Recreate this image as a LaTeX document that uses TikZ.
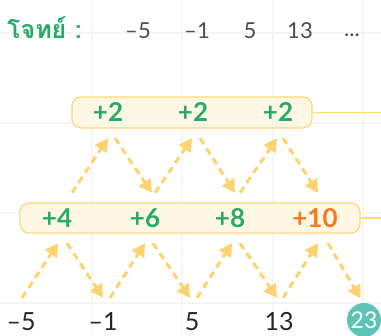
\documentclass[tikz,border=0pt]{standalone}
\usepackage{fontspec}
\setmainfont{Lato}
\newfontfamily\thaifont[Script=Thai]{Loma}
\usetikzlibrary{arrows.meta}
\definecolor{gridc}{RGB}{248,245,240}
\definecolor{boxfill}{RGB}{253,247,228}
\definecolor{boxline}{RGB}{252,216,122}
\definecolor{arrc}{RGB}{253,211,112}
\definecolor{stepgreen}{RGB}{38,170,106}
\definecolor{steporange}{RGB}{243,122,32}
\definecolor{ansteal}{RGB}{92,196,181}
\begin{document}
\begin{tikzpicture}[x=1pt,y=-1pt,
  sumbox/.style={draw=boxline,line width=1.2pt,fill=boxfill,rounded corners=9pt},
  difflbl/.style={inner sep=0pt,font=\fontsize{26}{26}\selectfont\bfseries,text=stepgreen},
  termlbl/.style={inner sep=0pt,minimum height=48pt,font=\fontsize{25}{25}\selectfont,text=black!85},
  toplbl/.style={inner sep=0pt,font=\fontsize{22}{22}\selectfont,text=black!70},
  dasharr/.style={draw=arrc,line width=3pt,dash pattern=on 7pt off 5pt,-{Triangle[length=13pt,width=14pt]}}]
\useasboundingbox (0,0) rectangle (381,336);
\draw[gridc,line width=1.5pt] (92,0)--(92,336) (182,0)--(182,336) (273,0)--(273,336) (363,0)--(363,336);
\draw[gridc,line width=1.5pt] (0,33)--(381,33) (0,123)--(381,123) (0,213)--(381,213) (0,303)--(381,303);
\node[anchor=west,inner sep=0pt,font=\thaifont\fontsize{25}{25}\selectfont\bfseries,text=stepgreen] (task) at (7,28) {โจทย์ :};
\node[toplbl] (t1) at (138,30.5) {–5};
\node[toplbl] (t2) at (197,30.5) {–1};
\node[toplbl] (t3) at (250,30.5) {5};
\node[toplbl] (t4) at (300,30.5) {13};
\node[toplbl,anchor=base] (t5) at (352,37) {...};
\node[sumbox,minimum width=240pt,minimum height=31pt] (upbox) at (192,112.5) {};
\coordinate (upend) at (381,112.5);
\draw[boxline,line width=1.2pt] (upbox.east)--(upend);
\node[sumbox,minimum width=340pt,minimum height=30pt] (lowbox) at (190,218) {};
\coordinate (lowend) at (381,218);
\draw[boxline,line width=1.2pt] (lowbox.east)--(lowend);
\node[difflbl,minimum height=52pt] (a1) at (108,112) {+2};
\node[difflbl,minimum height=52pt] (a2) at (193,112) {+2};
\node[difflbl,minimum height=52pt] (a3) at (278,112) {+2};
\node[difflbl,minimum height=50pt] (d1) at (57,218) {+4};
\node[difflbl,minimum height=50pt] (d2) at (145,218) {+6};
\node[difflbl,minimum height=50pt] (d3) at (230,218) {+8};
\node[difflbl,minimum height=50pt,text=steporange] (d4) at (315,218) {+10};
\node[termlbl] (n1) at (21,322) {–5};
\node[termlbl] (n2) at (103,322) {–1};
\node[termlbl] (n3) at (192,322) {5};
\node[termlbl] (n4) at (279,322) {13};
\node[circle,fill=ansteal,minimum size=34pt,inner sep=0pt,text=white,font=\fontsize{23}{23}\selectfont] (n5) at (364,320) {23};
\draw[dasharr] ([xshift=15pt]d1.north)--(a1.south);\draw[dasharr] ([xshift=7pt]a1.south)--([xshift=7pt]d2.north);
\draw[dasharr] ([xshift=10pt]d2.north)--([xshift=-1pt]a2.south);\draw[dasharr] ([xshift=7pt]a2.south)--([xshift=5pt]d3.north);
\draw[dasharr] ([xshift=10pt]d3.north)--([xshift=-1pt]a3.south);\draw[dasharr] ([xshift=5pt]a3.south)--([xshift=3pt]d4.north);
\draw[dasharr] ([xshift=1pt]n1.north)--([xshift=1pt]d1.south);\draw[dasharr] ([xshift=10pt]d1.south)--(n2.north);
\draw[dasharr] ([xshift=7pt]n2.north)--(d2.south);\draw[dasharr] ([xshift=8pt]d2.south)--([xshift=-2pt]n3.north);
\draw[dasharr] ([xshift=5pt]n3.north)--([xshift=2pt]d3.south);\draw[dasharr] ([xshift=10pt]d3.south)--([xshift=-2pt]n4.north);
\draw[dasharr] ([xshift=4pt]n4.north)--([xshift=3pt]d4.south);\draw[dasharr,shorten >=5pt] ([xshift=13pt]d4.south)--([xshift=-1pt]n5.north);
\end{tikzpicture}
\end{document}
